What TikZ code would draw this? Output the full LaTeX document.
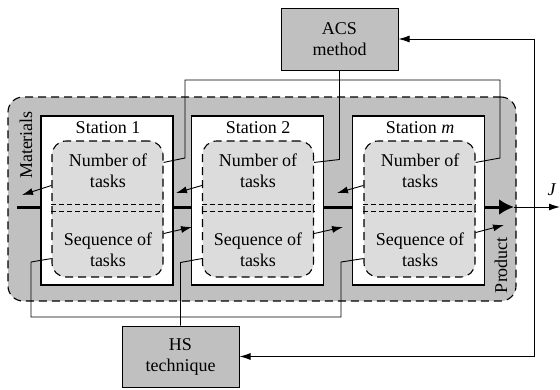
\documentclass[tikz,border=0pt]{standalone}
\usepackage{fontspec}
\setmainfont{Liberation Serif}
\usetikzlibrary{calc,arrows.meta}
\definecolor{midgray}{HTML}{C0C0C0}
\definecolor{lightgray2}{HTML}{DCDCDC}
\tikzset{
  outerbox/.style={draw, dashed, dash pattern=on 8pt off 5pt, line width=1.1pt, fill=midgray, rounded corners=15pt, minimum width=508pt, minimum height=204pt, inner sep=0pt},
  stationbox/.style={draw, line width=1.3pt, fill=white, minimum width=132pt, minimum height=169pt, inner sep=0pt},
  innerbox/.style={draw, dash pattern=on 8pt off 5pt, line width=1.1pt, fill=lightgray2, rounded corners=14pt, minimum width=111pt, minimum height=136pt, inner sep=0pt},
  methodbox/.style={draw, line width=1pt, fill=midgray, minimum width=117pt, minimum height=62pt, inner sep=0pt, align=center},
  lbl/.style={inner sep=0pt, align=center},
  conn/.style={line width=0.9pt},
  arr/.style={line width=0.9pt, -{Latex[length=11pt,width=7pt]}},
  splitline/.style={line width=0.8pt, dash pattern=on 5pt off 3pt},
}
\begin{document}
\begin{tikzpicture}[x=1pt,y=-1pt,font=\fontsize{18}{20}\selectfont]
\useasboundingbox (0,0) rectangle (560,389);
% outer region
\node[outerbox] (outer) at (262,199) {};
% thick product flow line
\coordinate (flowstart) at (17,207);
\coordinate (flowend) at (514,207);
\draw[line width=3pt, -{Latex[length=15pt,width=16pt]}] (flowstart) -- (flowend);
% stations
\node[stationbox] (st1) at (107,200.5) {};
\node[stationbox] (st2) at (257.5,200.5) {};
\node[stationbox] (stm) at (418.5,200.5) {};
\node[innerbox] (in1) at (107.5,209) {};
\node[innerbox] (in2) at (258,209) {};
\node[innerbox] (inm) at (419.5,209) {};
\foreach \n in {in1,in2,inm}{
  \draw[splitline] ($(\n.north west)+(0,64)$) -- ($(\n.north east)+(0,64)$);
  \draw[splitline] ($(\n.north west)+(0,71)$) -- ($(\n.north east)+(0,71)$);
}
% labels
\node[lbl] (t1) at (108,128) {Station 1};
\node[lbl] (t2) at (258,128) {Station 2};
\node[lbl] (tm) at (420,128) {Station \textit{m}};
\foreach \n/\x in {a/108,b/258,c/420}{
  \node[lbl] (num\n) at (\x,171) {Number of\\[1pt]tasks};
  \node[lbl] (seq\n) at (\x,250) {Sequence of\\[1pt]tasks};
}
\node[lbl, rotate=90] (mat) at (26,145) {Materials};
\node[lbl, rotate=90] (prod) at (501,265) {Product};
% method boxes
\node[methodbox] (acs) at (339.5,39) {ACS\\[1pt]method};
\node[methodbox, minimum height=61pt] (hs) at (180.5,356.5) {HS\\[1pt]technique};
% ACS connections
\draw[conn] (acs.south) -- ++(0,89) -- ($(in2.north east)+(0,22)$);
\draw[conn] ($(in1.north east)+(0,22)$) -- (185,158) -- (185,80) -- (500,80) -- (500,158) -- ($(inm.north east)+(0,22)$);
% HS connections
\draw[conn] (hs.north) -- ++(0,-63) -- ($(in2.south west)+(0,-19)$);
\draw[conn] ($(in1.south west)+(0,-19)$) -- (31,262) -- (31,317) -- (341,317) -- (341,262) -- ($(inm.south west)+(0,-19)$);
% number-of-tasks arrows
\coordinate (n1tip) at (22,195);
\coordinate (n2tip) at (176,193);
\coordinate (nmtip) at (337,193);
\draw[arr] ($(in1.north west)+(0,45)$) -- (n1tip);
\draw[arr] ($(in2.north west)+(0,45)$) -- (n2tip);
\draw[arr] ($(inm.north west)+(0,45)$) -- (nmtip);
% sequence arrows
\coordinate (s1tip) at (192,227);
\coordinate (s2tip) at (343,227);
\coordinate (smtip) at (504,225);
\draw[arr] ($(in1.south east)+(0,-44)$) -- (s1tip);
\draw[arr] ($(in2.south east)+(0,-44)$) -- (s2tip);
\draw[arr] ($(inm.south east)+(0,-45)$) -- (smtip);
% output J
\coordinate (jend) at (560,207);
\draw[arr] (flowend) -- (jend);
\node[lbl] (jlabel) at (552,190) {\textit{J}};
% feedback
\coordinate (fb) at (534,207);
\draw[arr] (fb) |- (acs.east);
\draw[arr] (fb) |- (hs.east);
\end{tikzpicture}
\end{document}
